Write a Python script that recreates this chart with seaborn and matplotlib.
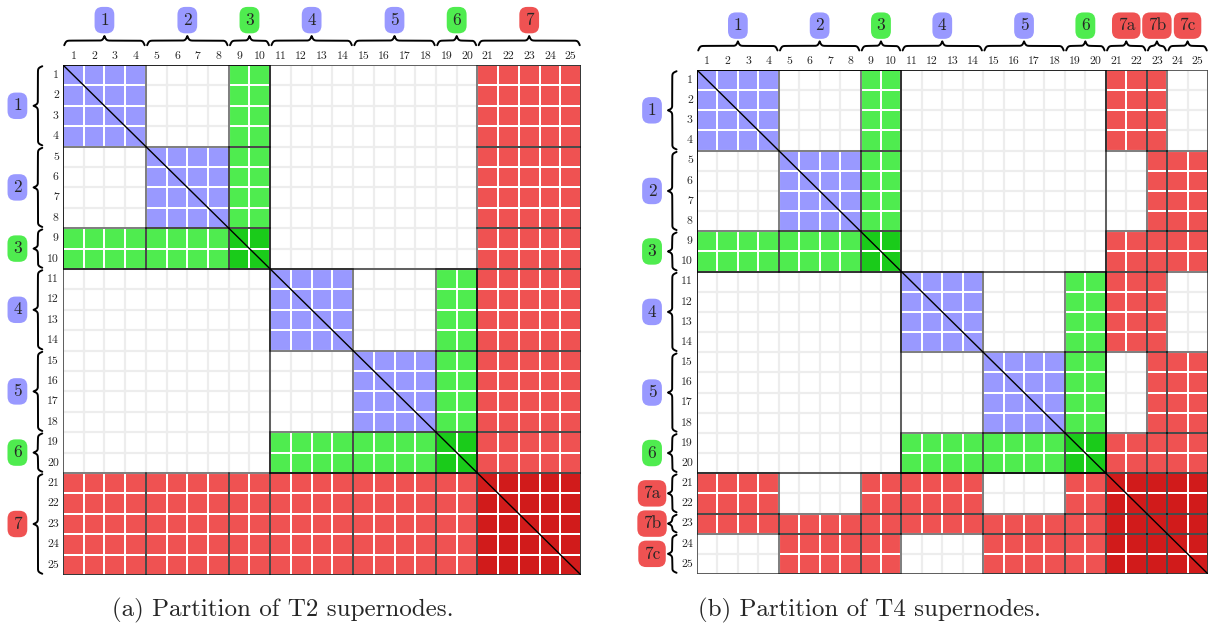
import numpy as np
import matplotlib
matplotlib.use("Agg")
import matplotlib.pyplot as plt
from matplotlib.colors import ListedColormap
from matplotlib.patches import Rectangle
import seaborn as sns

# supernode groups (sizes in columns) and labels
sizes_t2 = [4, 4, 2, 4, 4, 2, 5]
names_t2 = ['1', '2', '3', '4', '5', '6', '7']
kinds_t2 = ['b', 'b', 'g', 'b', 'b', 'g', 'r']

sizes_t4 = [4, 4, 2, 4, 4, 2, 2, 1, 2]
names_t4 = ['1', '2', '3', '4', '5', '6', '7a', '7b', '7c']
kinds_t4 = ['b', 'b', 'g', 'b', 'b', 'g', 'r', 'r', 'r']

# block codes: 0 empty, 1 blue, 2 green, 3 dark green, 4 red, 5 dark red
blocks_t2 = [
    [1, 0, 2, 0, 0, 0, 4],
    [0, 1, 2, 0, 0, 0, 4],
    [2, 2, 3, 0, 0, 0, 4],
    [0, 0, 0, 1, 0, 2, 4],
    [0, 0, 0, 0, 1, 2, 4],
    [0, 0, 0, 2, 2, 3, 4],
    [4, 4, 4, 4, 4, 4, 5],
]
blocks_t4 = [
    [1, 0, 2, 0, 0, 0, 4, 4, 0],
    [0, 1, 2, 0, 0, 0, 0, 4, 4],
    [2, 2, 3, 0, 0, 0, 4, 4, 4],
    [0, 0, 0, 1, 0, 2, 4, 4, 0],
    [0, 0, 0, 0, 1, 2, 0, 4, 4],
    [0, 0, 0, 2, 2, 3, 4, 4, 4],
    [4, 0, 4, 4, 0, 4, 5, 5, 5],
    [4, 4, 4, 4, 4, 4, 5, 5, 5],
    [0, 4, 4, 0, 4, 4, 5, 5, 5],
]
# separator subtrees framed in the matrix (start, end)
frames_t2 = [(0, 10), (10, 20), (0, 25)]
frames_t4 = [(0, 10), (10, 20), (0, 20), (0, 25)]

tick_labels = [str(i) for i in range(1, 26)]

cell_colors = ['#9999ff', '#4fec4f', '#1acb1a', '#ef5252', '#d11b1b']
badge_colors = {'b': '#9999ff', 'g': '#4fec4f', 'r': '#ef5252'}

sns.set_style('white')
plt.rcParams['font.family'] = ['cmr10', 'DejaVu Serif']
plt.rcParams['axes.formatter.use_mathtext'] = True


def brace(ax, a, b, base, height, vertical=False):
    # curly brace from a to b, base near the matrix, tip pointing away
    half = (b - a) / 2
    u = np.linspace(0, half, 150)
    k = 22
    y = 1 / (1 + np.exp(-k * u)) + 1 / (1 + np.exp(-k * (u - half))) - 0.5
    y = np.concatenate([y, y[::-1][1:]])
    s = np.concatenate([a + u, b - u[::-1][1:]])
    d = base - y * height
    if vertical:
        ax.plot(d, s, color='black', lw=1.4, clip_on=False, solid_capstyle='round')
    else:
        ax.plot(s, d, color='black', lw=1.4, clip_on=False, solid_capstyle='round')


def draw_matrix(ax, sizes, names, kinds, blocks, frames):
    edges = np.concatenate([[0], np.cumsum(sizes)])
    mat = np.repeat(np.repeat(np.array(blocks), sizes, axis=0), sizes, axis=1)
    mask = mat == 0
    sns.heatmap(mat, mask=mask, cmap=ListedColormap(cell_colors), vmin=0.5, vmax=5.5,
                cbar=False, linewidths=1.4, linecolor='white',
                xticklabels=tick_labels, yticklabels=tick_labels, ax=ax)
    ax.set_xlim(0, 25)
    ax.set_ylim(25, 0)
    # light grid over the empty cells
    for r, c in zip(*np.nonzero(mask)):
        ax.add_patch(Rectangle((c, r), 1, 1, fill=False, ec='#ededed', lw=1.5, zorder=2))
    for i in range(len(sizes)):
        for j in range(len(sizes)):
            if blocks[i][j]:
                ax.add_patch(Rectangle((edges[j], edges[i]), sizes[j], sizes[i], fill=False,
                                       ec='black', lw=1.2, alpha=0.55, zorder=4))
    for s0, s1 in frames:
        ax.add_patch(Rectangle((s0, s0), s1 - s0, s1 - s0, fill=False,
                               ec='black', lw=1.2, alpha=0.7, zorder=4))
    ax.plot([0, 25], [0, 25], color='black', lw=1.0, zorder=5)
    ax.xaxis.tick_top()
    ax.tick_params(axis='both', length=0, labelsize=8.5, pad=3)
    ax.tick_params(axis='y', rotation=0)
    for sp in ax.spines.values():
        sp.set_visible(False)
    for i, (name, kind) in enumerate(zip(names, kinds)):
        a, b = edges[i] + 0.06, edges[i + 1] - 0.06
        mid = (edges[i] + edges[i + 1]) / 2
        brace(ax, a, b, -0.97, 0.45)
        brace(ax, a, b, -1.0, 0.42, vertical=True)
        box = dict(boxstyle='round,pad=0.32,rounding_size=0.45', fc=badge_colors[kind], ec='none')
        ax.text(mid, -2.2, name, ha='center', va='center', fontsize=12.5, bbox=box, clip_on=False)
        ax.text(-2.2, mid, name, ha='center', va='center', fontsize=12.5, bbox=box, clip_on=False)


W, H = 1208, 631
fig = plt.figure(figsize=(W / 100, H / 100), dpi=100)
ax1 = fig.add_axes([63 / W, 1 - 575 / H, 518 / W, 510 / H])
ax2 = fig.add_axes([697 / W, 1 - 574 / H, 511 / W, 504 / H])

draw_matrix(ax1, sizes_t2, names_t2, kinds_t2, blocks_t2, frames_t2)
draw_matrix(ax2, sizes_t4, names_t4, kinds_t4, blocks_t4, frames_t4)

fig.text(283 / W, 1 - 610 / H, '(a) Partition of T2 supernodes.', ha='center', va='center', fontsize=18)
fig.text(870 / W, 1 - 610 / H, '(b) Partition of T4 supernodes.', ha='center', va='center', fontsize=18)

fig.savefig('out.png', dpi=100)
